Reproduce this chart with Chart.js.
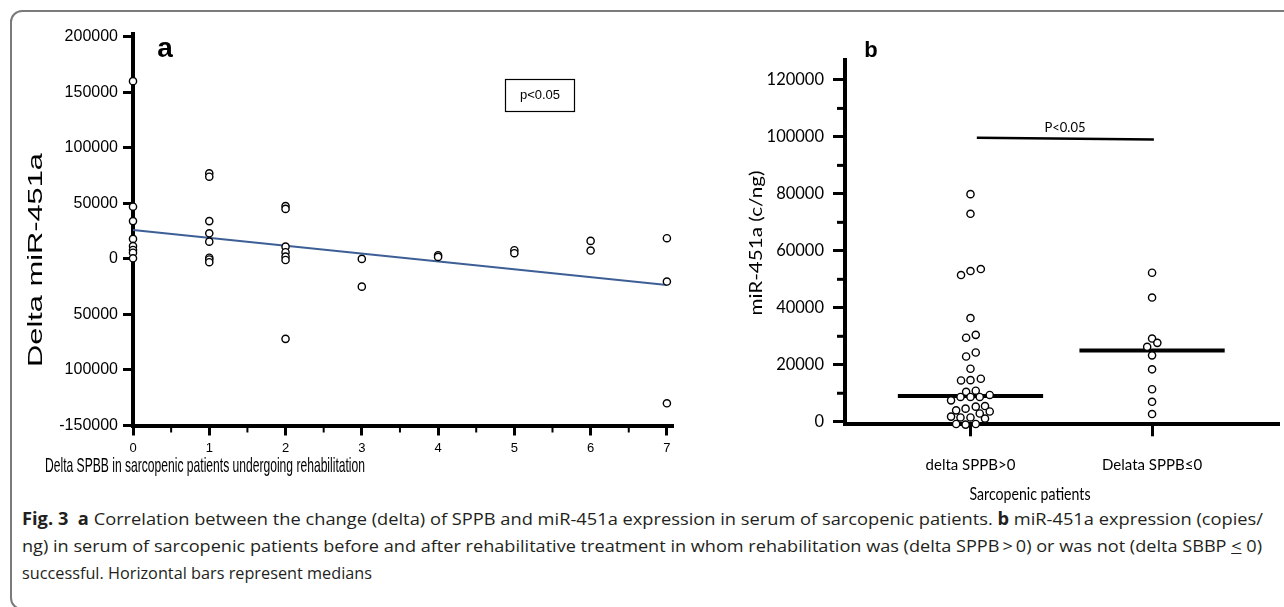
<!DOCTYPE html>
<html><head><meta charset="utf-8">
<script src="https://cdn.jsdelivr.net/npm/chart.js@4"></script>
<style>
html,body{margin:0;padding:0;}
body{width:1284px;height:607px;overflow:hidden;background:#fff;position:relative;}
#frame{position:absolute;left:10px;top:10px;width:1320px;height:600px;border:2px solid #7a7a7a;border-radius:12px;box-sizing:border-box;}
#ca{position:absolute;left:0;top:0;}
#cb{position:absolute;left:740px;top:0;}
.cap{position:absolute;left:22px;white-space:nowrap;font-family:'Open Sans',sans-serif;font-size:17px;line-height:20px;color:#231f20;transform-origin:0 0;}
</style></head>
<body>
<div id="frame"></div>
<canvas id="ca" width="700" height="480"></canvas>
<canvas id="cb" width="544" height="505"></canvas>
<div class="cap" id="l1" data-w="1241" style="top:509px"><b>Fig. 3</b>&nbsp; <b>a</b> Correlation between the change (delta) of SPPB and miR-451a expression in serum of sarcopenic patients. <b>b</b> miR-451a expression (copies/</div>
<div class="cap" id="l2" data-w="1240" style="top:536px">ng) in serum of sarcopenic patients before and after rehabilitative treatment in whom rehabilitation was (delta SPPB&thinsp;&gt;&thinsp;0) or was not (delta SBBP <u>&lt;</u> 0)</div>
<div class="cap" id="l3" data-w="350" style="top:563px">successful. Horizontal bars represent medians</div>
<script>
// ---------- Panel a data ----------
const xTickValuesA = [0,1,2,3,4,5,6,7];
const xTickLabelsA = ['0','1','2','3','4','5','6','7'];
const yTickValuesA = [-150000,-100000,-50000,0,50000,100000,150000,200000];
const yTickLabelsA = ['-150000','100000','50000','0','50000','100000','150000','200000'];
const deltaSPPB = [0,0,0,0,0,0,0,0, 1,1,1,1,1,1,1,1, 2,2,2,2,2,2,2, 3,3, 4,4, 5,5, 6,6, 7,7,7];
const deltaMiR  = [160000,47000,34000,18000,11500,8000,5500,500,
                   77000,74000,34000,23000,15500,1000,-500,-3000,
                   47500,45000,11000,6000,2000,-1000,-72000,
                   0,-25000, 3300,1800, 7800,5100, 16200,7500, 18600,-20400,-130000];
const fitX = [0,7];
const fitY = [26000,-23500];

// ---------- Panel b data ----------
const groupLabels = ['delta SPPB>0','Delata SPPB\u22640'];
const groupPos = [1,2];
const g1Offset = [0,0,-0.052,0,0.057,0,-0.024,0.029,-0.024,0.029,0,-0.052,0,0.057,-0.024,0.029,0.106,-0.107,-0.055,0,0.051,-0.079,-0.027,0.029,0.080,0.051,0.106,-0.107,-0.055,0,0.080,-0.079,-0.027,0.029];
const g1Values = [79900,73000,51500,52900,53600,36400,29500,30500,22900,24300,18600,14500,14600,15100,10500,10900,9400,7500,8700,8700,8700,4000,4600,5300,5500,2900,3600,1800,1500,1500,1100,-800,-1000,-800];
const g2Offset = [0,0,0,0.029,-0.027,0,0,0,0,0];
const g2Values = [52300,43600,29200,27700,26300,23300,18400,11400,7000,2700];
const medians = [9000,25000];
const yTickValuesB = [0,20000,40000,60000,80000,100000,120000];
const pBarX = [1.035,2.01];
const pBarY = [99700,99100];

function fitText(ctx, txt, x, y, font, w, rot){
  ctx.save();
  ctx.font = font;
  const m = ctx.measureText(txt).width;
  ctx.translate(x,y);
  if(rot) ctx.rotate(rot);
  ctx.scale(w/m,1);
  ctx.textAlign='center'; ctx.textBaseline='middle'; ctx.fillStyle='#000';
  ctx.fillText(txt,0,0);
  ctx.restore();
}

const ptStyle = {pointRadius:3.6,pointHoverRadius:3.6,pointBackgroundColor:'#fff',pointBorderColor:'#000',pointBorderWidth:1.4,showLine:false,clip:false};

const decoA = {
  id:'decoA',
  afterDraw(chart){
    const ctx=chart.ctx, xs=chart.scales.x, ca=chart.chartArea;
    ctx.save();
    ctx.strokeStyle='#000'; ctx.lineWidth=2;
    for(let v=0.5; v<7; v+=1){
      const px=xs.getPixelForValue(v);
      ctx.beginPath(); ctx.moveTo(px,ca.bottom); ctx.lineTo(px,ca.bottom+7); ctx.stroke();
    }
    ctx.restore();
    ctx.save();
    ctx.fillStyle='#000';
    ctx.font='bold 28px "Liberation Sans", Arial'; ctx.textAlign='center'; ctx.textBaseline='alphabetic';
    ctx.fillText('a',165,56.5);
    ctx.strokeStyle='#000'; ctx.lineWidth=1.2;
    ctx.strokeRect(505.5,79.5,69,32);
    ctx.font='13px "Liberation Sans", Arial'; ctx.textBaseline='middle';
    ctx.fillText('p<0.05',540,95);
    ctx.restore();
    fitText(ctx,'Delta miR-451a',36,260,'21px "Liberation Sans", Arial',214,-Math.PI/2);
    fitText(ctx,'Delta SPBB in sarcopenic patients undergoing rehabilitation',205,466,'21px "Liberation Sans", Arial',320,0);
  }
};

new Chart(document.getElementById('ca'),{
  type:'scatter',
  data:{datasets:[
    Object.assign({data:deltaSPPB.map((x,i)=>({x:x,y:deltaMiR[i]}))},ptStyle),
    {data:fitX.map((x,i)=>({x:x,y:fitY[i]})),showLine:true,borderColor:'#3d5f96',borderWidth:2,pointRadius:0,clip:false}
  ]},
  options:{
    responsive:false,animation:false,
    layout:{padding:{left:0,top:33.5,right:27,bottom:0}},
    plugins:{legend:{display:false},tooltip:{enabled:false}},
    scales:{
      x:{type:'linear',min:0,max:7.08,
        afterBuildTicks:s=>{s.ticks=xTickValuesA.map(v=>({value:v}));},
        afterFit:s=>{s.height=54.5;},
        border:{display:true,color:'#000',width:4},
        grid:{drawOnChartArea:false,drawTicks:true,tickLength:10,tickWidth:3,tickColor:'#000'},
        ticks:{color:'#000',padding:5,font:{family:'"Liberation Sans", Arial',size:13},maxRotation:0,autoSkip:false,
          callback:(v,i)=>xTickLabelsA[i]}
      },
      y:{type:'linear',min:-150000,max:202900,
        afterBuildTicks:s=>{s.ticks=yTickValuesA.map(v=>({value:v}));},
        afterFit:s=>{s.width=133;},
        border:{display:true,color:'#000',width:4},
        grid:{drawOnChartArea:false,drawTicks:true,tickLength:10,tickWidth:3,tickColor:'#000'},
        ticks:{color:'#000',padding:5,font:{family:'"Liberation Sans", Arial',size:16},autoSkip:false,
          callback:(v,i)=>yTickLabelsA[i]}
      }
    }
  },
  plugins:[decoA]
});

const decoB = {
  id:'decoB',
  afterDraw(chart){
    const ctx=chart.ctx, ys=chart.scales.y, ca=chart.chartArea;
    ctx.save();
    ctx.strokeStyle='#000'; ctx.lineWidth=3;
    for(let v=10000; v<=110000; v+=20000){
      const py=ys.getPixelForValue(v);
      ctx.beginPath(); ctx.moveTo(ca.left-8,py); ctx.lineTo(ca.left,py); ctx.stroke();
    }
    ctx.fillStyle='#000';
    ctx.font='bold 22px "Liberation Sans", Arial'; ctx.textAlign='center'; ctx.textBaseline='alphabetic';
    ctx.fillText('b',131,56.7);
    ctx.font='13px Lato'; ctx.textBaseline='middle';
    ctx.fillText('P<0.05',325,128);
    ctx.restore();
    fitText(ctx,'miR-451a (c/ng)',16,243,'18px Lato',145,-Math.PI/2);
    fitText(ctx,'Sarcopenic patients',290,495,'17px Lato',121,0);
  }
};

const medianSets = medians.map((m,i)=>({data:[{x:groupPos[i]-0.4,y:m},{x:groupPos[i]+0.4,y:m}],showLine:true,borderColor:'#000',borderWidth:4,pointRadius:0,clip:false}));

new Chart(document.getElementById('cb'),{
  type:'scatter',
  data:{datasets:[
    Object.assign({data:g1Values.map((v,i)=>({x:groupPos[0]+g1Offset[i],y:v}))},ptStyle),
    Object.assign({data:g2Values.map((v,i)=>({x:groupPos[1]+g2Offset[i],y:v}))},ptStyle),
    ...medianSets,
    {data:pBarX.map((x,i)=>({x:x,y:pBarY[i]})),showLine:true,borderColor:'#000',borderWidth:2.5,pointRadius:0,clip:false}
  ]},
  options:{
    responsive:false,animation:false,
    layout:{padding:{left:0,top:60,right:4,bottom:0}},
    plugins:{legend:{display:false},tooltip:{enabled:false}},
    scales:{
      x:{type:'linear',min:0.309,max:2.699,
        afterBuildTicks:s=>{s.ticks=groupPos.map(v=>({value:v}));},
        afterFit:s=>{s.height=505-424.3;},
        border:{display:true,color:'#000',width:4},
        grid:{drawOnChartArea:false,drawTicks:true,tickLength:12,tickWidth:3,tickColor:'#000'},
        ticks:{color:'#000',padding:20,font:{family:'Lato',size:15},maxRotation:0,autoSkip:false,
          callback:(v,i)=>groupLabels[i]}
      },
      y:{type:'linear',min:-900,max:127000,
        afterBuildTicks:s=>{s.ticks=yTickValuesB.map(v=>({value:v}));},
        afterFit:s=>{s.width=105;},
        border:{display:true,color:'#000',width:4},
        grid:{drawOnChartArea:false,drawTicks:true,tickLength:12,tickWidth:3,tickColor:'#000'},
        ticks:{color:'#000',padding:9,font:{family:'Lato',size:16.5},autoSkip:false,
          callback:(v)=>String(v)}
      }
    }
  },
  plugins:[decoB]
});

function fitCaps(){
  document.querySelectorAll('.cap').forEach(el=>{
    el.style.transform='none';
    const w=el.getBoundingClientRect().width;
    el.style.transform='scaleX('+(parseFloat(el.dataset.w)/w)+')';
  });
}
fitCaps();
if(document.fonts&&document.fonts.ready) document.fonts.ready.then(fitCaps);
</script>
</body></html>
